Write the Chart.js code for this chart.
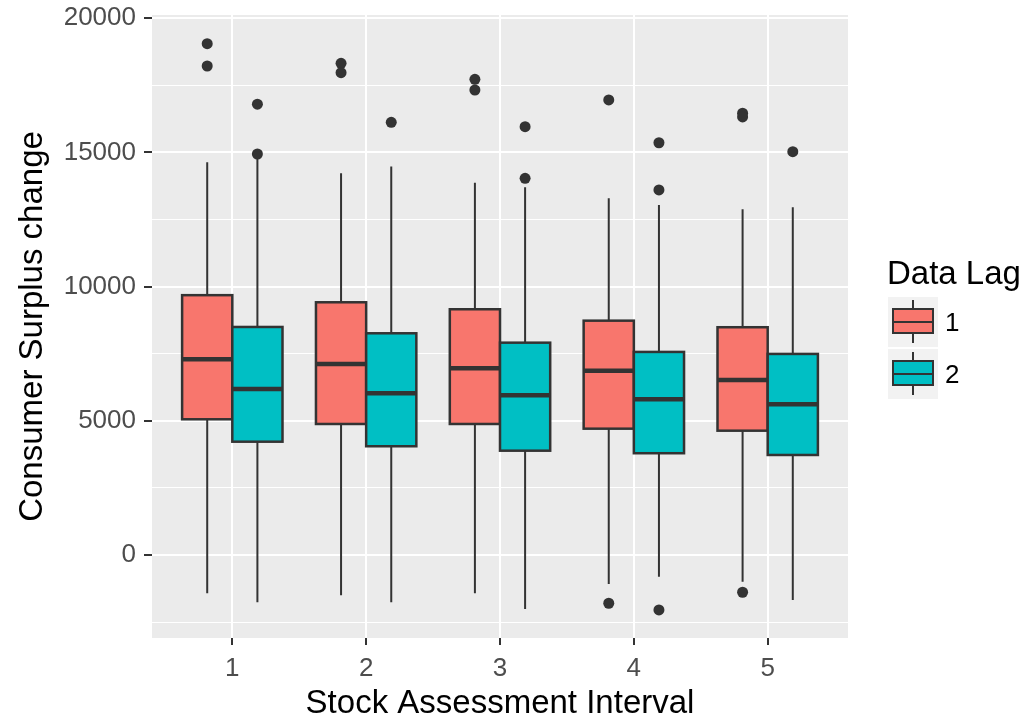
<!DOCTYPE html>
<html>
<head>
<meta charset="utf-8">
<script src="https://cdn.jsdelivr.net/npm/chart.js@4/dist/chart.umd.min.js"></script>
<style>
  html, body { margin: 0; padding: 0; background: #ffffff; }
  #wrap { width: 1028px; height: 720px; }
</style>
</head>
<body>
<div id="wrap"><canvas id="grafico"></canvas></div>
<script>
// categorias (Stock Assessment Interval)
const categorias = ['1', '2', '3', '4', '5'];
const lags = ['1', '2'];
const cores = ['#F8766D', '#00BFC4'];

// Data Lag 1
const lag1WhiskerAlto = [14630, 14220, 13870, 13290, 12880];
const lag1Q3 = [9680, 9415, 9155, 8730, 8485];
const lag1Mediana = [7290, 7115, 6955, 6865, 6520];
const lag1Q1 = [5055, 4880, 4880, 4705, 4630];
const lag1WhiskerBaixo = [-1430, -1500, -1430, -1080, -995];
const lag1Outliers = [[19050, 18220], [18320, 17970], [17725, 17325], [16955, -1800], [16460, 16320, -1390]];

// Data Lag 2
const lag2WhiskerAlto = [14790, 14470, 13700, 13040, 12955];
const lag2Q3 = [8495, 8260, 7910, 7565, 7490];
const lag2Mediana = [6185, 6025, 5950, 5800, 5615];
const lag2Q1 = [4220, 4050, 3885, 3790, 3725];
const lag2WhiskerBaixo = [-1765, -1765, -2010, -810, -1675];
const lag2Outliers = [[16795, 14940], [16120], [15960, 14035], [15360, 13600, -2050], [15025]];

// ticks do eixo y (maiores a cada 5000, menores no meio)
const yTicks = [-2500, 0, 2500, 5000, 7500, 10000, 12500, 15000, 17500, 20000];
const xTicks = [1, 2, 3, 4, 5];

const caixas = [
  { hi: lag1WhiskerAlto, q3: lag1Q3, med: lag1Mediana, q1: lag1Q1, lo: lag1WhiskerBaixo },
  { hi: lag2WhiskerAlto, q3: lag2Q3, med: lag2Mediana, q1: lag2Q1, lo: lag2WhiskerBaixo }
];
const largura = 0.375; // largura de cada caixa em unidades de categoria
const deslocamento = [-largura / 2, largura / 2];

function pontosOutliers(lista, k) {
  const pts = [];
  lista.forEach((vals, i) => {
    vals.forEach(v => pts.push({ x: i + 1 + deslocamento[k], y: v }));
  });
  return pts;
}

const FONTE = "'Liberation Sans', Arial, sans-serif";
const ESCURO = '#333333';

const pluginFundo = {
  id: 'fundo',
  beforeDraw(chart) {
    const { ctx, chartArea: a } = chart;
    ctx.save();
    ctx.fillStyle = '#EBEBEB';
    ctx.fillRect(a.left, a.top, a.right - a.left, a.bottom - a.top);
    ctx.restore();
  }
};

const pluginCaixas = {
  id: 'caixas',
  beforeDatasetsDraw(chart) {
    const { ctx } = chart;
    const x = chart.scales.x, y = chart.scales.y;
    ctx.save();
    caixas.forEach((c, k) => {
      categorias.forEach((cat, i) => {
        const centro = i + 1 + deslocamento[k];
        const xl = x.getPixelForValue(centro - largura / 2);
        const xr = x.getPixelForValue(centro + largura / 2);
        const xc = x.getPixelForValue(centro);
        const yHi = y.getPixelForValue(c.hi[i]);
        const yQ3 = y.getPixelForValue(c.q3[i]);
        const yMed = y.getPixelForValue(c.med[i]);
        const yQ1 = y.getPixelForValue(c.q1[i]);
        const yLo = y.getPixelForValue(c.lo[i]);
        // bigodes
        ctx.strokeStyle = ESCURO;
        ctx.lineWidth = 2;
        ctx.beginPath();
        ctx.moveTo(xc, yHi); ctx.lineTo(xc, yQ3);
        ctx.moveTo(xc, yQ1); ctx.lineTo(xc, yLo);
        ctx.stroke();
        // caixa
        ctx.fillStyle = cores[k];
        ctx.fillRect(xl, yQ3, xr - xl, yQ1 - yQ3);
        ctx.lineWidth = 2.5;
        ctx.strokeRect(xl, yQ3, xr - xl, yQ1 - yQ3);
        // mediana
        ctx.lineWidth = 4.5;
        ctx.beginPath();
        ctx.moveTo(xl, yMed); ctx.lineTo(xr, yMed);
        ctx.stroke();
      });
    });
    ctx.restore();
  }
};

const pluginLegenda = {
  id: 'legenda',
  afterDraw(chart) {
    const { ctx } = chart;
    ctx.save();
    ctx.fillStyle = '#000000';
    ctx.font = '33px ' + FONTE;
    ctx.textBaseline = 'alphabetic';
    ctx.textAlign = 'left';
    ctx.fillText('Data Lag', 887, 284);
    lags.forEach((lab, k) => {
      const top = 297 + k * 52;
      ctx.fillStyle = '#F2F2F2';
      ctx.fillRect(888, top, 50, 50);
      ctx.strokeStyle = ESCURO;
      ctx.lineWidth = 2;
      ctx.beginPath();
      ctx.moveTo(913, top + 3); ctx.lineTo(913, top + 46);
      ctx.stroke();
      ctx.fillStyle = cores[k];
      ctx.fillRect(893, top + 12, 40, 24);
      ctx.strokeRect(893, top + 12, 40, 24);
      ctx.beginPath();
      ctx.moveTo(893, top + 25); ctx.lineTo(933, top + 25);
      ctx.stroke();
      ctx.fillStyle = '#000000';
      ctx.font = '26px ' + FONTE;
      ctx.textBaseline = 'middle';
      ctx.fillText(lab, 945, top + 27);
    });
    ctx.restore();
  }
};

const ctx = document.getElementById('grafico').getContext('2d');

const grafico = new Chart(ctx, {
  type: 'scatter',
  data: {
    datasets: [
      {
        label: lags[0],
        data: pontosOutliers(lag1Outliers, 0),
        backgroundColor: ESCURO,
        borderWidth: 0,
        pointRadius: 5.5,
        pointHoverRadius: 5.5
      },
      {
        label: lags[1],
        data: pontosOutliers(lag2Outliers, 1),
        backgroundColor: ESCURO,
        borderWidth: 0,
        pointRadius: 5.5,
        pointHoverRadius: 5.5
      }
    ]
  },
  options: {
    responsive: true,
    maintainAspectRatio: false,
    animation: false,
    layout: { padding: { top: 15, right: 180, left: 0, bottom: 0 } },
    plugins: {
      legend: { display: false },
      tooltip: { enabled: false }
    },
    scales: {
      x: {
        type: 'linear',
        min: 0.4,
        max: 5.6,
        afterFit(s) { s.height = 82; s.paddingLeft = 0; s.paddingRight = 0; },
        afterBuildTicks(s) { s.ticks = xTicks.map(v => ({ value: v })); },
        border: { display: false },
        grid: { color: '#FFFFFF', lineWidth: 2, tickColor: ESCURO, tickWidth: 2, tickLength: 7 },
        ticks: {
          autoSkip: false,
          maxRotation: 0,
          padding: 8,
          color: '#4D4D4D',
          font: { family: FONTE, size: 26 },
          callback: (v) => categorias[v - 1]
        },
        title: {
          display: true,
          text: 'Stock Assessment Interval',
          color: '#000000',
          font: { family: FONTE, size: 33, lineHeight: 1 },
          padding: { top: 0, bottom: 0 }
        }
      },
      y: {
        min: -3095,
        max: 20120,
        afterFit(s) { s.width = 152; s.paddingTop = 0; s.paddingBottom = 0; },
        afterBuildTicks(s) { s.ticks = yTicks.map(v => ({ value: v })); },
        border: { display: false },
        grid: {
          color: '#FFFFFF',
          lineWidth: (c) => (c.tick && c.tick.value % 5000 === 0 ? 2 : 1),
          tickColor: (c) => (c.tick && c.tick.value % 5000 === 0 ? ESCURO : 'rgba(0,0,0,0)'),
          tickWidth: 2,
          tickLength: 8
        },
        ticks: {
          autoSkip: false,
          padding: 8,
          color: '#4D4D4D',
          font: { family: FONTE, size: 26 },
          callback: (v) => (v % 5000 === 0 ? String(v) : '')
        },
        title: {
          display: true,
          text: 'Consumer Surplus change',
          color: '#000000',
          font: { family: FONTE, size: 33, lineHeight: 1 },
          padding: { top: 16, bottom: 0 }
        }
      }
    }
  },
  plugins: [pluginFundo, pluginCaixas, pluginLegenda]
});
</script>
</body>
</html>
